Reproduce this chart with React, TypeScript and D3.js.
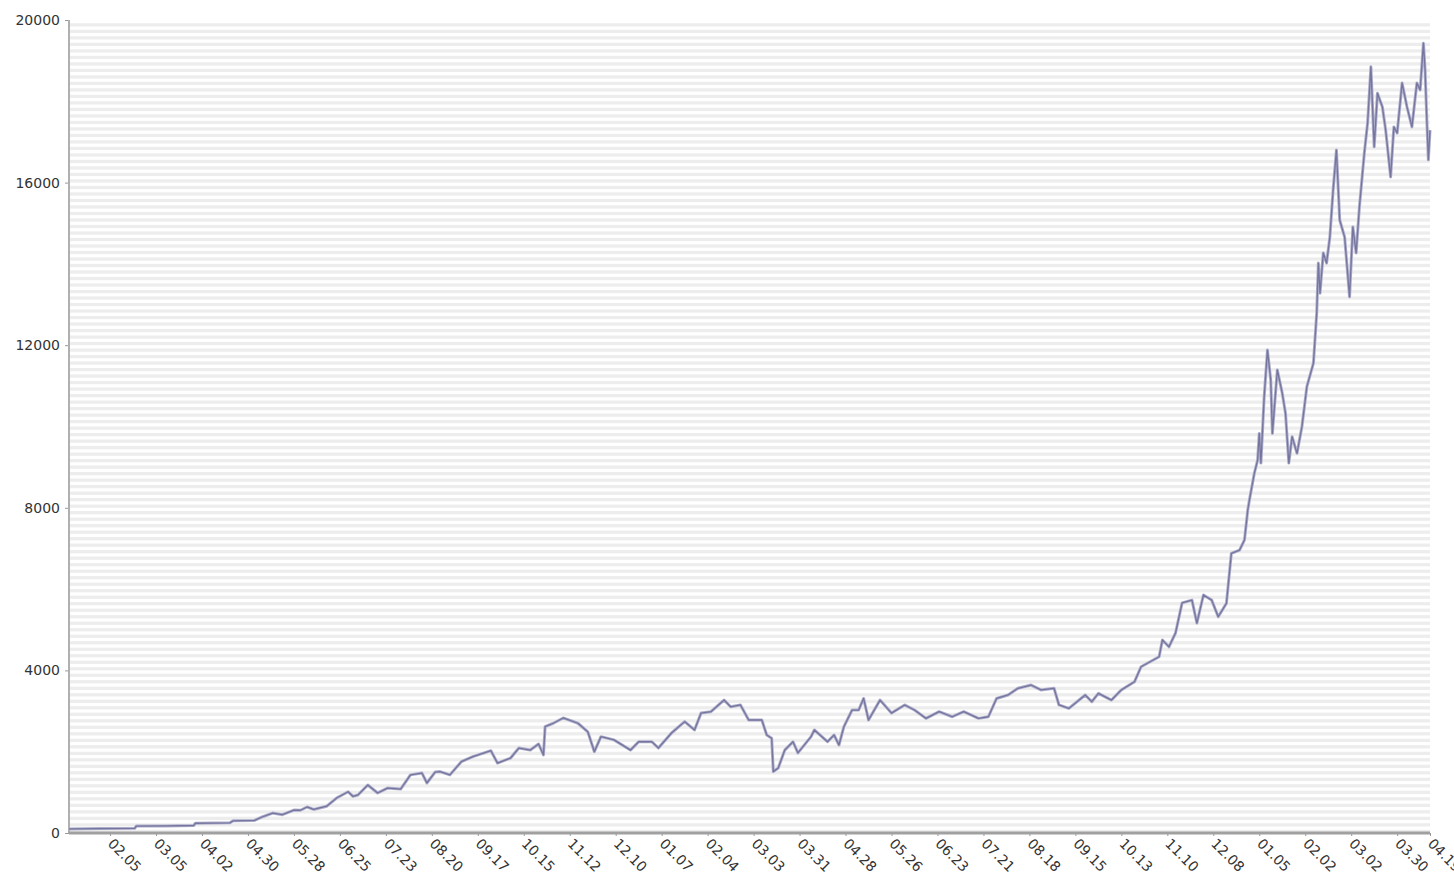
import { useEffect, useRef } from "react";
import * as d3 from "d3";

// dates and values
const dates = [
  "2019-01-11", "2019-01-30", "2019-02-20", "2019-02-21", "2019-03-11", "2019-03-28", "2019-03-29",
  "2019-04-19", "2019-04-21", "2019-05-04", "2019-05-09", "2019-05-15", "2019-05-21", "2019-05-28",
  "2019-06-01", "2019-06-05", "2019-06-09", "2019-06-17", "2019-06-23", "2019-06-30", "2019-07-03",
  "2019-07-06", "2019-07-12", "2019-07-18", "2019-07-24", "2019-08-01", "2019-08-07", "2019-08-14",
  "2019-08-17", "2019-08-22", "2019-08-25", "2019-08-31", "2019-09-07", "2019-09-14", "2019-09-25",
  "2019-09-29", "2019-10-07", "2019-10-12", "2019-10-19", "2019-10-24", "2019-10-27", "2019-10-28",
  "2019-11-02", "2019-11-08", "2019-11-17", "2019-11-23", "2019-11-27", "2019-12-01", "2019-12-09",
  "2019-12-19", "2019-12-24", "2020-01-01", "2020-01-05", "2020-01-13", "2020-01-21", "2020-01-27",
  "2020-01-31", "2020-02-06", "2020-02-14", "2020-02-18", "2020-02-24", "2020-02-29", "2020-03-08",
  "2020-03-11", "2020-03-14", "2020-03-15", "2020-03-18", "2020-03-22", "2020-03-27", "2020-03-30",
  "2020-04-07", "2020-04-09", "2020-04-17", "2020-04-21", "2020-04-24", "2020-04-27", "2020-05-02",
  "2020-05-06", "2020-05-09", "2020-05-12", "2020-05-19", "2020-05-26", "2020-06-03", "2020-06-09",
  "2020-06-16", "2020-06-24", "2020-07-02", "2020-07-09", "2020-07-18", "2020-07-24", "2020-07-29",
  "2020-08-05", "2020-08-11", "2020-08-19", "2020-08-25", "2020-09-02", "2020-09-05", "2020-09-11",
  "2020-09-21", "2020-09-25", "2020-09-29", "2020-10-07", "2020-10-13", "2020-10-21", "2020-10-25",
  "2020-11-05", "2020-11-07", "2020-11-11", "2020-11-15", "2020-11-19", "2020-11-25", "2020-11-28",
  "2020-12-02", "2020-12-07", "2020-12-11", "2020-12-16", "2020-12-19", "2020-12-24", "2020-12-27",
  "2020-12-29", "2020-12-30", "2021-01-02", "2021-01-04", "2021-01-05", "2021-01-06", "2021-01-08",
  "2021-01-10", "2021-01-12", "2021-01-13", "2021-01-16", "2021-01-19", "2021-01-21", "2021-01-23",
  "2021-01-25", "2021-01-28", "2021-01-31", "2021-02-03", "2021-02-07", "2021-02-09", "2021-02-10",
  "2021-02-11", "2021-02-13", "2021-02-15", "2021-02-17", "2021-02-19", "2021-02-21", "2021-02-23",
  "2021-02-26", "2021-03-01", "2021-03-03", "2021-03-05", "2021-03-07", "2021-03-10", "2021-03-12",
  "2021-03-14", "2021-03-16", "2021-03-18", "2021-03-21", "2021-03-23", "2021-03-26", "2021-03-28",
  "2021-03-30", "2021-04-02", "2021-04-05", "2021-04-08", "2021-04-11", "2021-04-13", "2021-04-15",
  "2021-04-16", "2021-04-17", "2021-04-18", "2021-04-19",
];

const values = [
  100, 110, 115, 170, 175, 185, 240,
  250, 300, 310, 400, 490, 450, 565,
  560, 640, 580, 660, 860, 1015, 900,
  935, 1180, 985, 1105, 1080, 1430, 1475,
  1230, 1500, 1510, 1430, 1755, 1880, 2025,
  1720, 1845, 2090, 2040, 2190, 1920, 2615,
  2700, 2830, 2700, 2490, 2000, 2370, 2290,
  2040, 2245, 2245, 2090, 2460, 2740, 2535,
  2950, 2985, 3270, 3105, 3150, 2780, 2780,
  2410, 2330, 1510, 1600, 2040, 2245, 1970,
  2370, 2535, 2245, 2410, 2165, 2615, 3025,
  3025, 3310, 2780, 3270, 2950, 3150, 3025,
  2820, 2985, 2860, 2985, 2820, 2860, 3310,
  3395, 3560, 3640, 3520, 3560, 3150, 3065,
  3395, 3230, 3435, 3270, 3520, 3720, 4090,
  4335, 4750, 4580, 4920, 5660, 5730, 5165,
  5855, 5730, 5320, 5650, 6880, 6960, 7210,
  7945, 8190, 8850, 9175, 9830, 9100, 10735,
  11880, 11140, 9830, 11390, 10820, 10320, 9100,
  9750, 9340, 10000, 10980, 11560, 12790, 14020,
  13280, 14270, 14020, 14660, 15820, 16800, 15080,
  14660, 13190, 14910, 14270, 15400, 16730, 17470,
  18850, 16880, 18200, 17860, 17290, 16140, 17370,
  17220, 18450, 17860, 17370, 18450, 18280, 19430,
  18770, 17610, 16560, 17290,
];

const yTicks = [0, 4000, 8000, 12000, 16000, 20000];
const firstTick = "2019-02-05";
const tickStepDays = 28;
const lastDate = "2021-04-19";

const W = 1454;
const H = 881;
const margin = { top: 20, right: 24, bottom: 48, left: 69 };
const font = "DejaVu Sans, sans-serif";

export default function App() {
  const svgRef = useRef<SVGSVGElement | null>(null);

  useEffect(() => {
    if (!svgRef.current) return;
    const parse = d3.utcParse("%Y-%m-%d");
    const fmt = d3.utcFormat("%m.%d");
    const points = dates.map((d, i) => ({ date: parse(d) as Date, value: values[i] }));

    const innerW = W - margin.left - margin.right;
    const innerH = H - margin.top - margin.bottom;

    const svg = d3.select(svgRef.current);
    svg.selectAll("*").remove();

    const x = d3
      .scaleUtc()
      .domain([points[0].date, parse(lastDate) as Date])
      .range([0, innerW]);
    const y = d3.scaleLinear().domain([0, 20000]).range([innerH, 0]);

    const g = svg.append("g").attr("transform", `translate(${margin.left},${margin.top})`);

    // striped background
    g.append("rect").attr("width", innerW).attr("height", innerH).attr("fill", "#ffffff");
    g.append("g")
      .selectAll("rect")
      .data(d3.range(0, 20000, 160))
      .join("rect")
      .attr("x", 0)
      .attr("width", innerW)
      .attr("y", (d) => y(d + 80))
      .attr("height", y(0) - y(80))
      .attr("fill", "#ededed");

    // x ticks every 4 weeks, plus the last date
    const xTickDates = d3.utcDay.range(parse(firstTick) as Date, parse(lastDate) as Date, tickStepDays);
    xTickDates.push(parse(lastDate) as Date);

    const xAxis = g
      .append("g")
      .attr("transform", `translate(0,${innerH})`)
      .call(d3.axisBottom(x).tickValues(xTickDates).tickFormat((d) => fmt(d as Date)).tickSize(3));
    xAxis.select(".domain").remove();
    xAxis.selectAll(".tick line").attr("stroke", "#999");
    xAxis
      .selectAll<SVGTextElement, Date>(".tick text")
      .attr("text-anchor", "start")
      .attr("transform", "translate(0,8) rotate(45)")
      .attr("dy", "0.35em")
      .attr("x", 0)
      .attr("y", 0)
      .attr("font-size", 14)
      .attr("font-family", font)
      .attr("fill", "#333");

    const yAxis = g.append("g").call(d3.axisLeft(y).tickValues(yTicks).tickFormat(d3.format("d")).tickSize(4).tickPadding(5));
    yAxis.select(".domain").remove();
    yAxis.selectAll(".tick line").attr("stroke", "#999");
    yAxis
      .selectAll(".tick text")
      .attr("font-size", 14)
      .attr("font-family", font)
      .attr("fill", "#333");

    // axis lines
    g.append("line").attr("x1", 0).attr("x2", 0).attr("y1", 0).attr("y2", innerH).attr("stroke", "#b0b0b0").attr("stroke-width", 2);
    g.append("line").attr("x1", 0).attr("x2", innerW).attr("y1", innerH).attr("y2", innerH).attr("stroke", "#a0a0a0").attr("stroke-width", 3);

    const line = d3
      .line<{ date: Date; value: number }>()
      .x((d) => x(d.date))
      .y((d) => y(d.value));

    g.append("path").datum(points).attr("d", line).attr("fill", "none").attr("stroke", "#aeaecc").attr("stroke-width", 3).attr("stroke-linejoin", "round");
    g.append("path").datum(points).attr("d", line).attr("fill", "none").attr("stroke", "#75759e").attr("stroke-width", 1.3).attr("stroke-linejoin", "round");
  }, []);

  return (
    <div style={{ position: "fixed", left: 0, top: 0, background: "#fff" }}>
      <svg ref={svgRef} width={W} height={H} />
    </div>
  );
}
